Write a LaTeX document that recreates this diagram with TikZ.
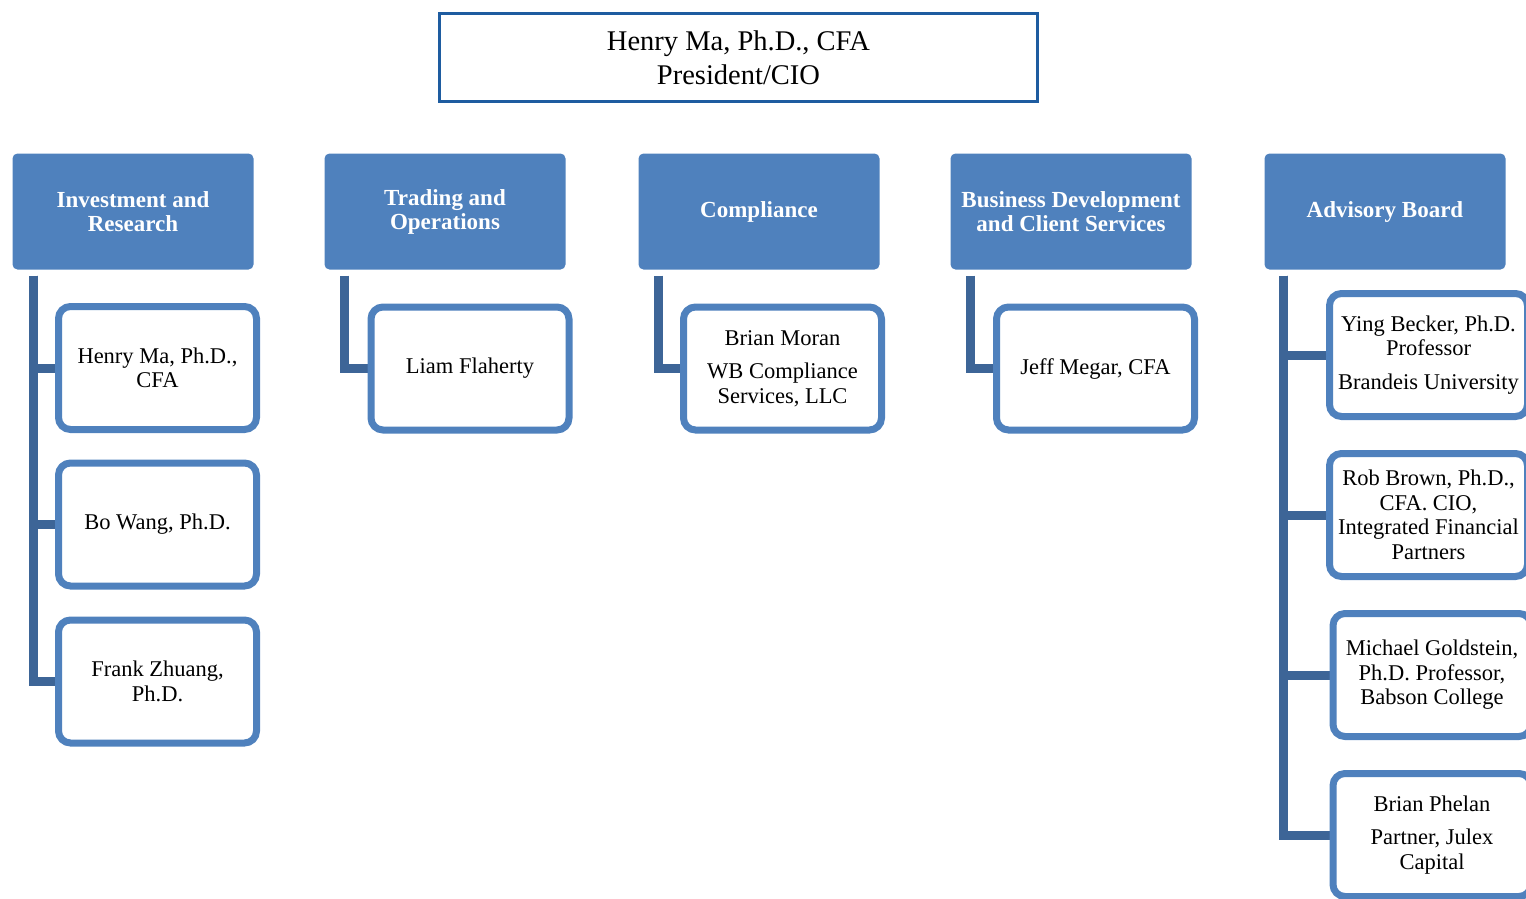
\documentclass[tikz,border=0pt]{standalone}
\usepackage{fontspec}
\setmainfont{Liberation Serif}
\pgfdeclarelayer{background}
\pgfsetlayers{background,main}
\definecolor{headblue}{RGB}{79,129,189}
\definecolor{linkblue}{RGB}{61,101,151}
\definecolor{topblue}{RGB}{30,92,160}
\begin{document}
\begin{tikzpicture}[x=1pt,y=-1pt,
			every node/.style={align=center,inner sep=0pt},
			ceo/.style={draw=topblue,line width=2.5pt,minimum width=598pt,minimum height=88pt,font=\fontsize{28.5}{34}\selectfont},
			head/.style={fill=headblue,rounded corners=5pt,minimum width=241pt,minimum height=116pt,text=white,font=\bfseries\fontsize{23}{24}\selectfont},
			member/.style={draw=headblue,fill=white,line width=7pt,rounded corners=12pt,minimum width=198pt,minimum height=123pt,font=\fontsize{22.5}{24.5}\selectfont},
			orgline/.style={draw=linkblue,line width=9pt},]
\useasboundingbox (0,0) rectangle (1526,898);
\node[ceo] (pres) at (738.5,57.5) {Henry Ma, Ph.D., CFA\\President/CIO};
% departments
\node[head] (ir) at (133,211.5) {Investment and\\Research};
\node[head] (tr) at (445,211.5) {Trading and\\Operations};
\node[head] (co) at (759,211.5) {Compliance};
\node[head] (bd) at (1071,211.5) {Business Development\\and Client Services};
\node[head] (ab) at (1385,211.5) {Advisory Board};
% people
\node[member] (ir1) at (157.5,368) {Henry Ma, Ph.D.,\\CFA};
\node[member] (ir2) at (157.5,524.5) {Bo Wang, Ph.D.};
\node[member] (ir3) at (157.5,681.5) {Frank Zhuang,\\Ph.D.};
\node[member] (tr1) at (470,368.5) {Liam Flaherty};
\node[member] (co1) at (782.5,368.5) {Brian Moran\\[9pt]WB Compliance\\Services, LLC};
\node[member] (bd1) at (1095.5,368.5) {Jeff Megar, CFA};
\node[member] (ab1) at (1428.5,355) {Ying Becker, Ph.D.\\Professor\\[9pt]Brandeis University};
\node[member] (ab2) at (1428.5,515) {Rob Brown, Ph.D.,\\CFA. CIO,\\Integrated Financial\\Partners};
\node[member] (ab3) at (1432,675) {Michael Goldstein,\\Ph.D. Professor,\\Babson College};
\node[member] (ab4) at (1432,835) {Brian Phelan\\[9pt]Partner, Julex\\Capital};
\begin{pgfonlayer}{background}
\foreach \m in {ir1,ir2,ir3}
	\draw[orgline] ([xshift=21pt,yshift=-6pt]ir.south west) |- (\m.west);
\draw[orgline] ([xshift=20pt,yshift=-6pt]tr.south west) |- (tr1.west);
\draw[orgline] ([xshift=20pt,yshift=-6pt]co.south west) |- (co1.west);
\draw[orgline] ([xshift=20pt,yshift=-6pt]bd.south west) |- (bd1.west);
\foreach \m in {ab1,ab2,ab3,ab4}
	\draw[orgline] ([xshift=19pt,yshift=-6pt]ab.south west) |- (\m.west);
\end{pgfonlayer}
\end{tikzpicture}
\end{document}
